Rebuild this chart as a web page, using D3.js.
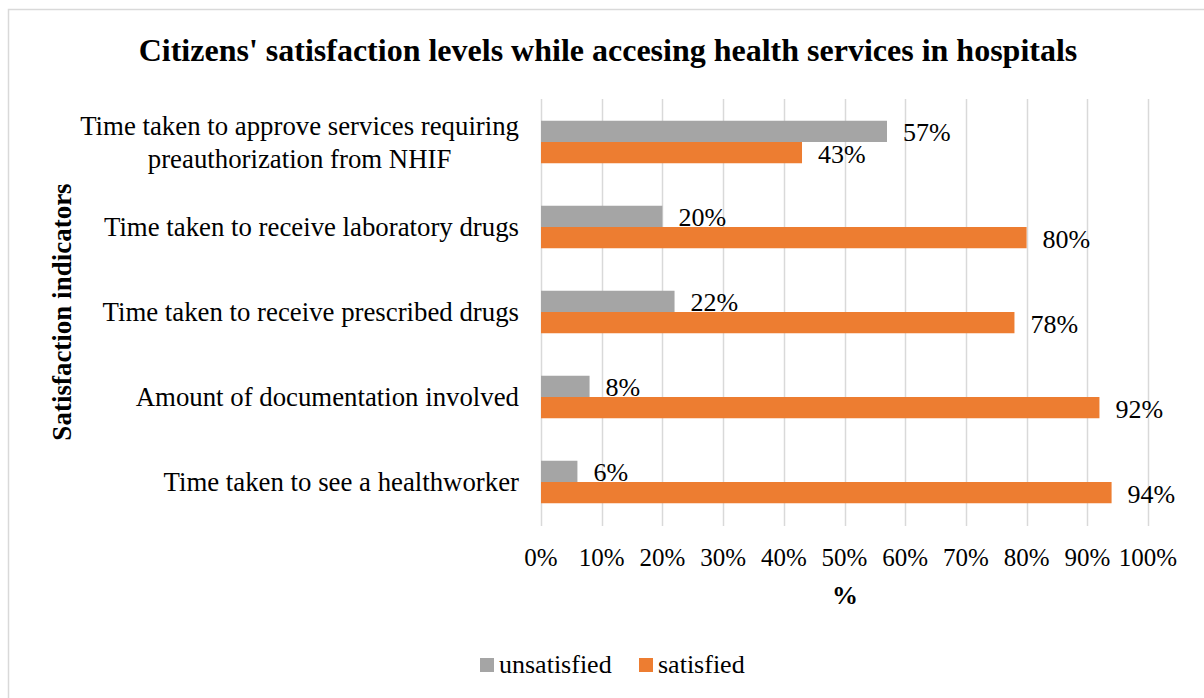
<!DOCTYPE html>
<html lang="en">
<head>
    <meta charset="UTF-8">
    <title>Citizens' satisfaction levels</title>
    <script src="https://d3js.org/d3.v7.min.js"></script>
    <style>
        body { margin: 0; background: #fff; }
        text { font-family: "Liberation Serif", "Times New Roman", serif; fill: #000; }
    </style>
</head>
<body>
    <svg></svg>

    <script>
        const w = 1204;
        const h = 698;

        // top to bottom, as in the chart
        const categories = [
            ["Time taken to approve services requiring", "preauthorization from NHIF"],
            ["Time taken to receive laboratory drugs"],
            ["Time taken to receive prescribed drugs"],
            ["Amount of documentation involved"],
            ["Time taken to see a healthworker"]
        ];
        const seriesNames = ["unsatisfied", "satisfied"];
        const unsatisfied = [0.57, 0.20, 0.22, 0.08, 0.06];
        const satisfied = [0.43, 0.80, 0.78, 0.92, 0.94];
        const ticks = [0, 0.1, 0.2, 0.3, 0.4, 0.5, 0.6, 0.7, 0.8, 0.9, 1.0];
        const colors = ["#a5a5a5", "#ed7d31"];

        const rows = categories.map((c, i) => ({
            key: c.join(" "),
            lines: c,
            values: [unsatisfied[i], satisfied[i]]
        }));

        const svg = d3.select("svg")
            .attr("width", w)
            .attr("height", h);

        // outer frame (cropped on right and bottom)
        svg.append("rect")
            .attr("x", 8.5)
            .attr("y", 9.5)
            .attr("width", w)
            .attr("height", h)
            .attr("fill", "#fff")
            .attr("stroke", "#d9d9d9")
            .attr("stroke-width", 1.5);

        const x = d3.scaleLinear()
            .domain([0, 1])
            .range([541, 1148]);

        const y = d3.scaleBand()
            .domain(rows.map(d => d.key))
            .range([99.5, 524.5])
            .paddingInner(0.5)
            .paddingOuter(0.25);

        const ySub = d3.scaleBand()
            .domain(seriesNames)
            .range([0, y.bandwidth()]);

        // gridlines
        svg.append("g")
            .selectAll("line")
            .data(ticks)
            .join("line")
                .attr("x1", d => Math.round(x(d)) + 0.5)
                .attr("x2", d => Math.round(x(d)) + 0.5)
                .attr("y1", 99)
                .attr("y2", 526)
                .attr("stroke", "#d9d9d9")
                .attr("stroke-width", 1.5);

        // tick labels
        svg.append("g")
            .selectAll("text")
            .data(ticks)
            .join("text")
                .attr("x", d => x(d))
                .attr("y", 566)
                .attr("text-anchor", "middle")
                .attr("font-size", 25)
                .text(d => d3.format(".0%")(d));

        // bars
        const groups = svg.append("g")
            .selectAll("g")
            .data(rows)
            .join("g")
                .attr("transform", d => `translate(0, ${y(d.key)})`);

        groups.selectAll("rect")
            .data(d => d.values.map((v, i) => ({ name: seriesNames[i], value: v, i })))
            .join("rect")
                .attr("x", x(0))
                .attr("y", d => ySub(d.name))
                .attr("width", d => x(d.value) - x(0))
                .attr("height", ySub.bandwidth())
                .attr("fill", d => colors[d.i]);

        groups.selectAll("text")
            .data(d => d.values.map((v, i) => ({ name: seriesNames[i], value: v })))
            .join("text")
                .attr("x", d => x(d.value) + 16)
                .attr("y", d => ySub(d.name) + ySub.bandwidth() / 2)
                .attr("dy", "0.38em")
                .attr("font-size", 26)
                .text(d => d3.format(".0%")(d.value));

        // category labels
        svg.append("g")
            .selectAll("g")
            .data(rows)
            .join("g")
            .each(function(d) {
                const g = d3.select(this);
                const cy = y(d.key) + y.bandwidth() / 2;
                const lh = 33;
                const n = d.lines.length;
                const first = g.append("text")
                    .attr("x", 519)
                    .attr("y", cy - (n - 1) * lh / 2)
                    .attr("dy", "0.35em")
                    .attr("text-anchor", "end")
                    .attr("font-size", 26.8)
                    .text(d.lines[0]);
                const wd = first.node().getComputedTextLength();
                for (let k = 1; k < n; k++) {
                    g.append("text")
                        .attr("x", 519 - wd / 2)
                        .attr("y", cy - (n - 1) * lh / 2 + k * lh)
                        .attr("dy", "0.35em")
                        .attr("text-anchor", "middle")
                        .attr("font-size", 26.8)
                        .text(d.lines[k]);
                }
            });

        // title
        svg.append("text")
            .attr("x", 608)
            .attr("y", 61)
            .attr("text-anchor", "middle")
            .attr("font-size", 32)
            .attr("font-weight", "bold")
            .text("Citizens' satisfaction levels while accesing health services in hospitals");

        // axis titles
        svg.append("text")
            .attr("transform", "translate(71, 312) rotate(-90)")
            .attr("text-anchor", "middle")
            .attr("font-size", 27)
            .attr("font-weight", "bold")
            .text("Satisfaction indicators");

        svg.append("text")
            .attr("x", 845)
            .attr("y", 604)
            .attr("text-anchor", "middle")
            .attr("font-size", 26)
            .attr("font-weight", "bold")
            .text("%");

        // legend
        const legend = svg.append("g")
            .selectAll("g")
            .data(seriesNames)
            .join("g")
                .attr("transform", (d, i) => `translate(${[480, 639][i]}, 658)`);

        legend.append("rect")
            .attr("width", 14)
            .attr("height", 14)
            .attr("fill", (d, i) => colors[i]);

        legend.append("text")
            .attr("x", 19)
            .attr("y", 15)
            .attr("font-size", 26)
            .text(d => d);
    </script>
</body>
</html>
